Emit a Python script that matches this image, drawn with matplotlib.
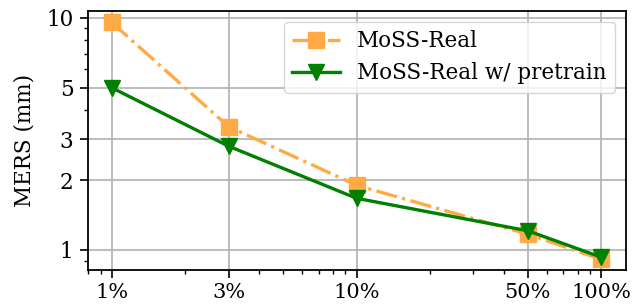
import matplotlib
matplotlib.use("Agg")
import matplotlib.pyplot as plt
from matplotlib.ticker import FixedLocator, FixedFormatter, LogLocator, NullFormatter

plt.rcParams['font.family'] = 'DejaVu Serif'

x_pct = [1, 3, 10, 50, 100]
x_labels = ['1%', '3%', '10%', '50%', '100%']
moss_real = [9.55, 3.4, 1.9, 1.17, 0.91]
moss_pretrain = [5.0, 2.8, 1.67, 1.21, 0.93]
y_ticks = [1, 2, 3, 5, 10]

fig = plt.figure(figsize=(6.39, 3.08), dpi=100)
ax = fig.add_axes([88/639, 38/308, 538/639, 259/308])
ax.plot(x_pct, moss_real, color='#ffaa44', linestyle='-.', marker='s', markersize=12, linewidth=2.4, label='MoSS-Real')
ax.plot(x_pct, moss_pretrain, color='green', linestyle='-', marker='v', markersize=12, linewidth=2.4, label='MoSS-Real w/ pretrain')
ax.set_xscale('log')
ax.set_yscale('log')
ax.set_xlim(0.8, 126)
ax.set_ylim(0.82, 10.7)
ax.xaxis.set_major_locator(FixedLocator(x_pct))
ax.xaxis.set_major_formatter(FixedFormatter(x_labels))
ax.xaxis.set_minor_locator(LogLocator(base=10, subs=range(2, 10)))
ax.xaxis.set_minor_formatter(NullFormatter())
ax.yaxis.set_major_locator(FixedLocator(y_ticks))
ax.yaxis.set_major_formatter(FixedFormatter([str(v) for v in y_ticks]))
ax.yaxis.set_minor_locator(LogLocator(base=10, subs=range(2, 10)))
ax.yaxis.set_minor_formatter(NullFormatter())
ax.grid(True, which='major', color='#b0b0b0', linewidth=1.2)
ax.tick_params(which='major', labelsize=15.5, length=5.5, width=1.2, pad=5)
ax.tick_params(axis='x', which='major', labelsize=15, pad=3.5)
ax.tick_params(which='minor', length=3, width=1.0)
for s in ax.spines.values():
    s.set_linewidth(1.3)
ax.set_ylabel('MERS (mm)', fontsize=15.5, labelpad=8)
ax.legend(loc='upper right', fontsize=15.5, handlelength=2.2, bbox_to_anchor=(1.0, 1.0),
          borderaxespad=0.5, labelspacing=0.45)
fig.savefig('out.png', dpi=100)
